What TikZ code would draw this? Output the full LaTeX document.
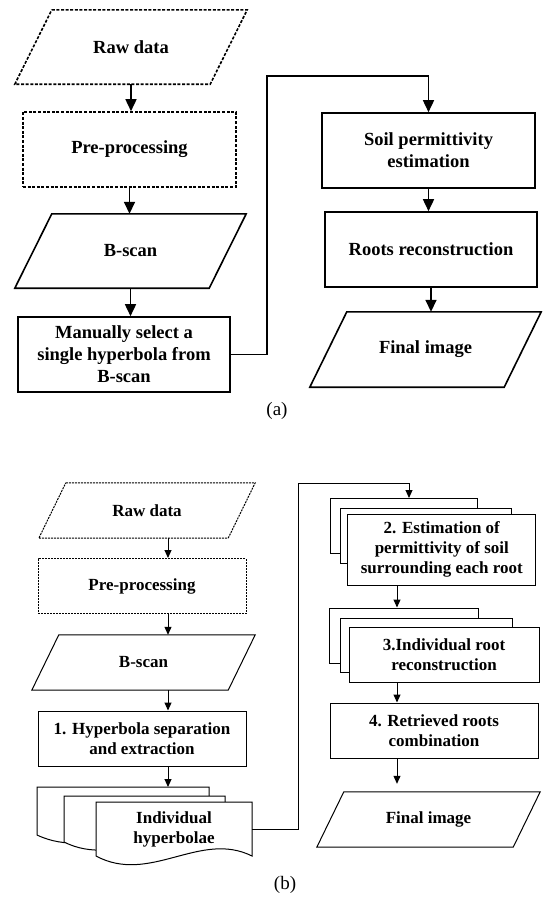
\documentclass[tikz,border=0pt]{standalone}
\usepackage{fontspec}
\setmainfont{Liberation Serif}
\usetikzlibrary{arrows.meta, positioning}

\tikzset{
	linea/.style={line width=1.6pt},
	lineb/.style={line width=1pt},
	dasha/.style={dash pattern=on 3pt off 1.6pt},
	dashb/.style={dash pattern=on 2pt off 1pt},
	arra/.style={linea, -{Triangle[length=12pt,width=11pt]}},
	arrb/.style={lineb, -{Triangle[length=8pt,width=7pt]}},
	txta/.style={font=\fontsize{18.5}{22}\selectfont\bfseries, align=center},
	txtb/.style={font=\fontsize{17}{20}\selectfont\bfseries, align=center},
	boxa/.style={txta, draw, linea, fill=white, minimum width=212, minimum height=75, inner sep=2pt},
	boxb/.style={txtb, draw, lineb, fill=white, minimum width=208, minimum height=55, inner sep=2pt},
	% slanted data boxes: rectangle node, outline drawn 18.5 (a) or 13.5 (b) off its corners
	slanta/.style={txta, minimum width=195, minimum height=74, inner sep=2pt,
		append after command={\pgfextra{\draw[linea, #1]
			([xshift=18.5]\tikzlastnode.north west) -- ([xshift=18.5]\tikzlastnode.north east)
			-- ([xshift=-18.5]\tikzlastnode.south east) -- ([xshift=-18.5]\tikzlastnode.south west) -- cycle;}}},
	slanta/.default={},
	slantb/.style={txtb, minimum width=195, minimum height=55, inner sep=2pt,
		append after command={\pgfextra{\draw[lineb, #1]
			([xshift=13.5]\tikzlastnode.north west) -- ([xshift=13.5]\tikzlastnode.north east)
			-- ([xshift=-13.5]\tikzlastnode.south east) -- ([xshift=-13.5]\tikzlastnode.south west) -- cycle;}}},
	slantb/.default={},
	sheetb/.style={draw, lineb, fill=white},
	capt/.style={font=\fontsize{19}{22}\selectfont}
}

\begin{document}
\begin{tikzpicture}[x=1pt, y=-1pt]
	\useasboundingbox (0,0) rectangle (542,897);

	% (a) left column
	\node[slanta=dasha] (rawa) at (131,47) {Raw data};
	\node[boxa, dasha, minimum width=213] (prea) at (129.5,149.5) {Pre-processing};
	\node[slanta, minimum width=194] (bscana) at (130.5,251) {B-scan};
	\node[boxa] (manual) at (124,354.5) {Manually select a\\single hyperbola from\\B-scan};

	% (a) right column
	\node[boxa, minimum width=213] (soil) at (428.5,150.5) {Soil permittivity\\estimation};
	\node[boxa] (roots) at (431,249.5) {Roots reconstruction};
	\node[slanta, minimum width=194, minimum height=75] (finala) at (425.5,349.5) {Final image};
	\node[capt] (capa) at (277,411) {(a)};

	\draw[arra] (rawa.south) -- (rawa.south |- prea.north);
	\draw[arra] (prea.south) -- (prea.south |- bscana.north);
	\draw[arra] (bscana.south) -- (bscana.south |- manual.north);
	\coordinate (benda) at (267,76);
	\draw[arra] (manual.east) -| (benda) -| (soil.north);
	\draw[arra] (soil.south) -- (soil.south |- roots.north);
	\draw[arra] (roots.south) -- (roots.south |- finala.north);

	% (b) left column
	\coordinate (colb) at (168,0);
	\node[slantb=dashb, minimum width=189] (rawb) at (147,510.5) {Raw data};
	\node[boxb, dashb] (preb) at (142,586) {Pre-processing};
	\node[slantb, minimum width=196] (bscanb) at (143.5,662.5) {B-scan};
	\node[boxb] (sep) at (142,738.5) {1. Hyperbola separation\\and extraction};

	% stack of hyperbolae
	\draw[sheetb] (37,787) -- (209,787) -- (209,835) .. controls (152,811) and (94,862) .. (37,835) -- cycle;
	\draw[sheetb] (64,796) -- (225,796) -- (225,842) .. controls (171,818) and (118,869) .. (64,842) -- cycle;
	\draw[sheetb] (96,802) -- (252,802) -- (252,856) .. controls (200,830) and (150,885) .. (96,856) -- cycle;
	\node[txtb, minimum width=156, minimum height=54] (hyp) at (174,829) {Individual\\hyperbolae};
	\coordinate (docs) at (168,787);

	\draw[arrb] (rawb.south -| colb) -- (preb.north -| colb);
	\draw[arrb] (preb.south -| colb) -- (bscanb.north -| colb);
	\draw[arrb] (bscanb.south -| colb) -- (sep.north -| colb);
	\draw[arrb] (sep.south -| colb) -- (docs);

	% (b) right column
	\coordinate (colr) at (397,0);
	\node[sheetb, minimum width=147, minimum height=55] (est3) at (403.5,525.5) {};
	\node[sheetb, minimum width=171, minimum height=55] (est2) at (425.5,535.5) {};
	\node[boxb, minimum width=188, minimum height=71] (est) at (441.8,549.5) {2. Estimation of\\permittivity of soil\\surrounding each root};
	\node[sheetb, minimum width=149, minimum height=55] (rec3) at (404.3,635.5) {};
	\node[sheetb, minimum width=172, minimum height=54] (rec2) at (426,645) {};
	\node[boxb, minimum width=190] (rec) at (444,654.5) {3.Individual root\\reconstruction};
	\node[boxb] (comb) at (434,730.5) {4. Retrieved roots\\combination};
	\node[slantb, minimum width=196] (finalb) at (428.5,819.5) {Final image};
	\node[capt] (capb) at (285,885) {(b)};

	\coordinate (bendb) at (298,483);
	\coordinate (estin) at (409,498);
	\draw[arrb] (hyp.east) -| (bendb) -| (estin);
	\draw[arrb] (est.south -| colr) -- (rec3.north -| colr);
	\draw[arrb] (rec.south -| colr) -- (comb.north -| colr);
	\draw[arrb, shorten >=8pt] (comb.south -| colr) -- (finalb.north -| colr);
\end{tikzpicture}
\end{document}
